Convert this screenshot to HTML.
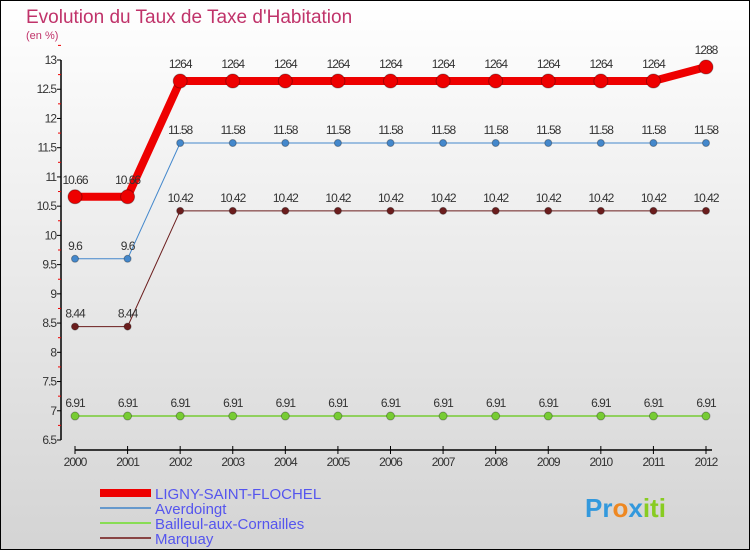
<!DOCTYPE html>
<html><head><meta charset="utf-8"><style>
body{margin:0}
svg{display:block;font-family:"Liberation Sans",sans-serif}
</style></head><body>
<svg id="c" width="750" height="550">
<defs><linearGradient id="bg" x1="0" y1="0" x2="0" y2="1"><stop offset="0" stop-color="#ffffff"/><stop offset="1" stop-color="#d4d4d4"/></linearGradient></defs>
<rect x="0.5" y="0.5" width="749" height="549" fill="url(#bg)" stroke="#000"/>
<text x="26" y="23" font-size="19" fill="#c0336a">Evolution du Taux de Taxe d'Habitation</text>
<text x="26" y="39" font-size="11" fill="#c0336a">(en %)</text>
<g id="g"></g>
<g>
<rect x="100" y="489" width="51" height="8" fill="#e00"/>
<text x="155" y="499" font-size="15" fill="#5555ee">LIGNY-SAINT-FLOCHEL</text>
<line x1="100" y1="508" x2="151" y2="508" stroke="#6699cc" stroke-width="2"/>
<text x="155" y="514" font-size="15" fill="#5555ee">Averdoingt</text>
<line x1="100" y1="523" x2="151" y2="523" stroke="#88dd55" stroke-width="2"/>
<text x="155" y="529" font-size="15" fill="#5555ee">Bailleul-aux-Cornailles</text>
<line x1="100" y1="538" x2="151" y2="538" stroke="#884444" stroke-width="2"/>
<text x="155" y="544" font-size="15" fill="#5555ee">Marquay</text>
</g>
<g font-size="26" font-weight="bold">
<text x="585" y="517"><tspan fill="#3399dd">Pr</tspan><tspan fill="#ee8822">o</tspan><tspan fill="#3399dd">x</tspan><tspan fill="#88cc22">iti</tspan></text>
</g>
</svg>
<script>
const years=["2000","2001","2002","2003","2004","2005","2006","2007","2008","2009","2010","2011","2012"];
const ligny=[10.66,10.66,12.64,12.64,12.64,12.64,12.64,12.64,12.64,12.64,12.64,12.64,12.88];
const averdoingt=[9.6,9.6,11.58,11.58,11.58,11.58,11.58,11.58,11.58,11.58,11.58,11.58,11.58];
const bailleul=[6.91,6.91,6.91,6.91,6.91,6.91,6.91,6.91,6.91,6.91,6.91,6.91,6.91];
const marquay=[8.44,8.44,10.42,10.42,10.42,10.42,10.42,10.42,10.42,10.42,10.42,10.42,10.42];
const yTicks=[6.5,7,7.5,8,8.5,9,9.5,10,10.5,11,11.5,12,12.5,13];
const NS="http://www.w3.org/2000/svg";
const g=document.getElementById('g');
const x=i=>75+i*(706-75)/(years.length-1);
const y=v=>440-(v-6.5)*(380/6.5);
function mk(t,a,p){const e=document.createElementNS(NS,t);for(const k in a)e.setAttribute(k,a[k]);(p||g).appendChild(e);return e;}
// axes
let ax=mk('line',{x1:61,y1:y(13),x2:61,y2:y(6.5),stroke:'#000','stroke-width':1.5});


yTicks.forEach(v=>{
  mk('line',{x1:57,y1:y(v),x2:61,y2:y(v),stroke:'#000'});
  mk('line',{x1:58,y1:y(v+0.25),x2:61,y2:y(v+0.25),stroke:'#e00'});
  const t=mk('text',{x:56,y:y(v)+4,'font-size':12,'text-anchor':'end',fill:'#333','letter-spacing':'-1'});
  t.textContent=v;
  
  
});
let xa=mk('line',{x1:75,y1:450,x2:712,y2:450,stroke:'#000','stroke-width':1.5});


years.forEach((yr,i)=>{
  mk('line',{x1:x(i),y1:446,x2:x(i),y2:454,stroke:'#000'});
  const t=mk('text',{x:x(i),y:466,'font-size':12,'text-anchor':'middle',fill:'#333','letter-spacing':'-1'});
  t.textContent=yr;
  
  
});
function series(name,data,color,w,r,labOff){
  const s=mk('g',{});
  
  
  const pl=mk('polyline',{points:data.map((v,i)=>x(i)+','+y(v)).join(' '),fill:'none',stroke:color,'stroke-width':w},s);
  
  
  data.forEach((v,i)=>{
    const c=mk('circle',{cx:x(i),cy:y(v),r:r,fill:color,stroke:'rgba(0,0,0,0.3)'},s);
    
    
    const t=mk('text',{x:x(i),y:y(v)-labOff,'font-size':12,'text-anchor':'middle',fill:'#333','letter-spacing':'-1'},s);
    t.textContent=String(v).replace('.', name==='ligny'&&v>12?'':'.');
    
    
  });
}
series('bailleul',bailleul,'#77cc33',1.5,4,9);
series('marquay',marquay,'#6b1d1d',1,3.5,9);
series('averdoingt',averdoingt,'#4488cc',1,3.5,9);
series('ligny',ligny,'#ee0000',8,7,13);
</script>
</body></html>
